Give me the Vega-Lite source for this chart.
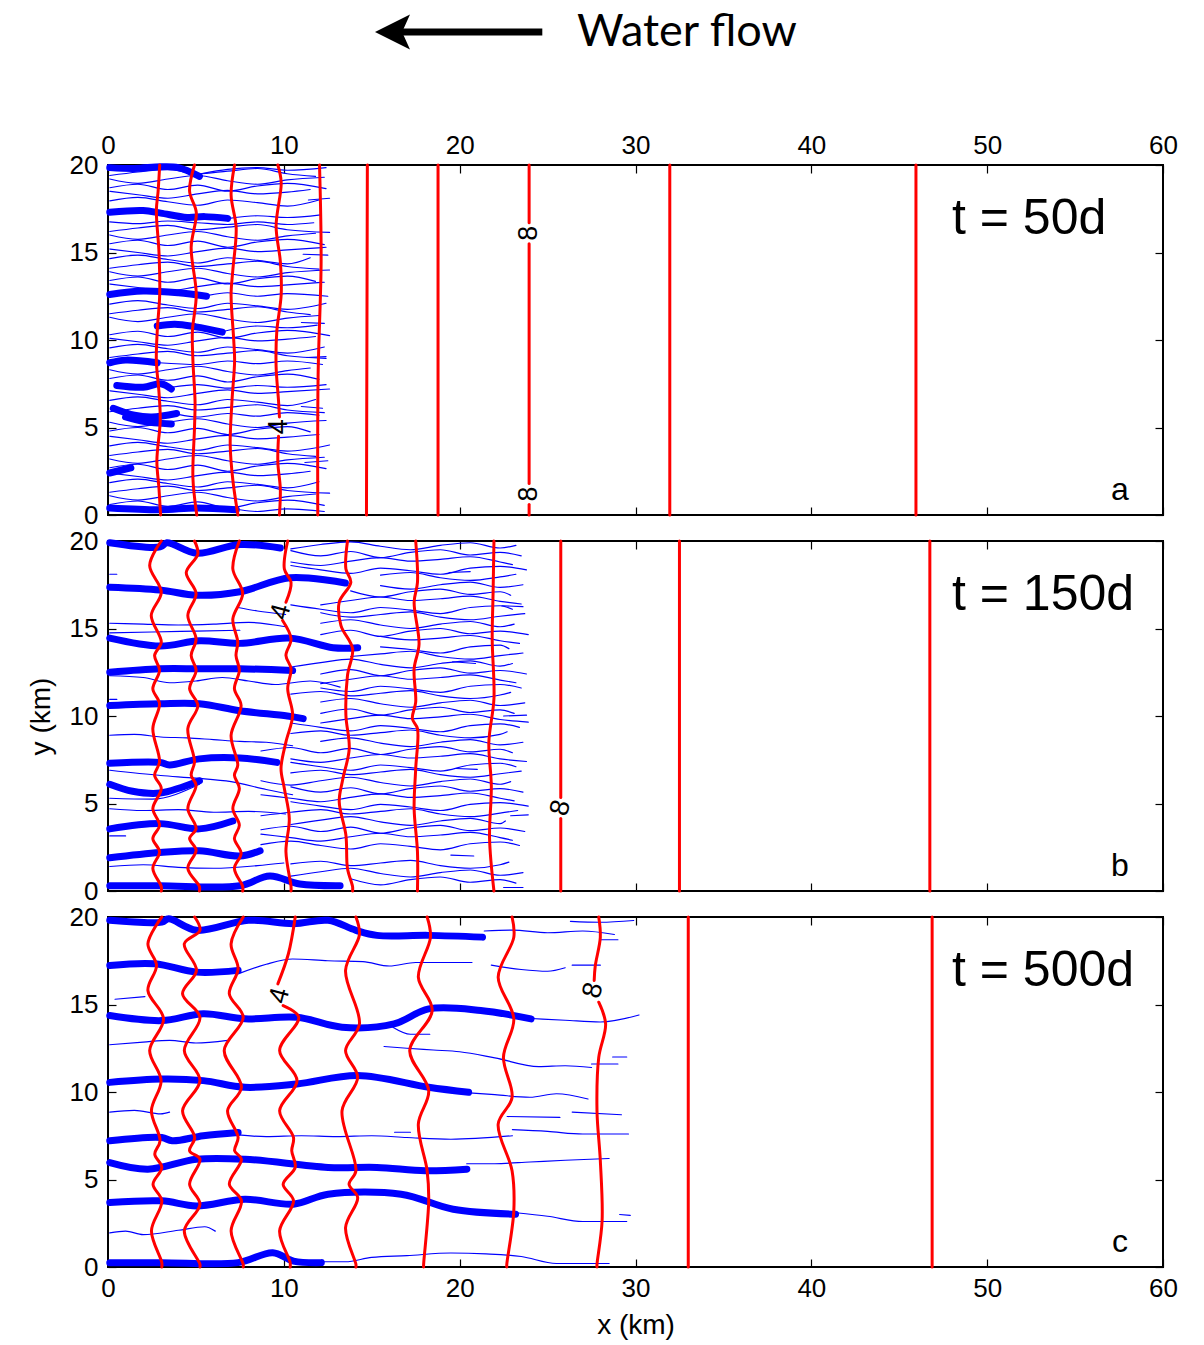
{
"$schema": "https://vega.github.io/schema/vega-lite/v6.json",
"background": "white",
"padding": {"left": 26, "top": 0, "right": 10, "bottom": 5},
"spacing": 26,
"bounds": "flush",
"config": {
  "font": "Liberation Sans",
  "view": {"stroke": "#000", "strokeWidth": 2},
  "axis": {"grid": false, "domain": false, "minExtent": 0, "tickSize": -8, "tickColor": "#000", "tickWidth": 1.2, "labelFont": "Liberation Sans", "labelFontSize": 26, "labelColor": "#000", "labelFlush": false, "labelOverlap": false, "titleFont": "Liberation Sans", "titleFontSize": 28, "titleFontWeight": "normal", "titleColor": "#000"},
  "line": {"strokeJoin": "round", "strokeCap": "round"}
},
"datasets": {
"thin_a": [
{"k":1,"x":0.1,"y":0.6},{"k":1,"x":1.7,"y":0.8},{"k":1,"x":3.4,"y":0.5},{"k":1,"x":5.1,"y":0.75},{"k":1,"x":6.8,"y":0.4},{"k":1,"x":8.5,"y":0.7},{"k":1,"x":10.2,"y":0.85},{"k":1,"x":12.3,"y":0.55},
{"k":2,"x":0.1,"y":1.1},{"k":2,"x":1.7,"y":0.85},{"k":2,"x":3.4,"y":1.1},{"k":2,"x":5.1,"y":1.3},{"k":2,"x":6.8,"y":1.0},{"k":2,"x":8.5,"y":0.8},{"k":2,"x":10.2,"y":1.05},{"k":2,"x":11.8,"y":1.2},
{"k":3,"x":0.1,"y":1.3},{"k":3,"x":1.7,"y":1.5},{"k":3,"x":3.4,"y":1.65},{"k":3,"x":5.1,"y":1.4},{"k":3,"x":6.8,"y":1.55},{"k":3,"x":8.5,"y":1.7},{"k":3,"x":10.2,"y":1.4},{"k":3,"x":12.6,"y":1.25},
{"k":4,"x":0.1,"y":1.85},{"k":4,"x":1.7,"y":2.05},{"k":4,"x":3.4,"y":1.8},{"k":4,"x":5.1,"y":1.6},{"k":4,"x":6.8,"y":1.9},{"k":4,"x":8.5,"y":1.75},{"k":4,"x":10.2,"y":1.55},{"k":4,"x":12.0,"y":1.9},
{"k":5,"x":0.1,"y":2.4},{"k":5,"x":1.7,"y":2.2},{"k":5,"x":3.4,"y":2.0},{"k":5,"x":5.1,"y":2.25},{"k":5,"x":6.8,"y":2.45},{"k":5,"x":8.5,"y":2.25},{"k":5,"x":10.2,"y":2.35},{"k":5,"x":11.5,"y":2.5},
{"k":6,"x":0.1,"y":2.7},{"k":6,"x":1.7,"y":2.9},{"k":6,"x":3.4,"y":2.6},{"k":6,"x":5.1,"y":2.85},{"k":6,"x":6.8,"y":2.5},{"k":6,"x":8.5,"y":2.8},{"k":6,"x":10.2,"y":2.95},{"k":6,"x":12.4,"y":2.65},
{"k":7,"x":0.1,"y":3.2},{"k":7,"x":1.7,"y":2.95},{"k":7,"x":3.4,"y":3.2},{"k":7,"x":5.1,"y":3.4},{"k":7,"x":6.8,"y":3.1},{"k":7,"x":8.5,"y":2.9},{"k":7,"x":10.2,"y":3.15},{"k":7,"x":12.3,"y":3.3},
{"k":8,"x":0.1,"y":3.4},{"k":8,"x":1.7,"y":3.6},{"k":8,"x":3.4,"y":3.75},{"k":8,"x":5.1,"y":3.5},{"k":8,"x":6.8,"y":3.65},{"k":8,"x":8.5,"y":3.8},{"k":8,"x":10.2,"y":3.5},{"k":8,"x":11.8,"y":3.35},
{"k":9,"x":0.1,"y":3.95},{"k":9,"x":1.7,"y":4.15},{"k":9,"x":3.4,"y":3.9},{"k":9,"x":5.1,"y":3.7},{"k":9,"x":6.8,"y":4.0},{"k":9,"x":8.5,"y":3.85},{"k":9,"x":10.2,"y":3.65},{"k":9,"x":12.6,"y":4.0},
{"k":10,"x":0.1,"y":4.5},{"k":10,"x":1.7,"y":4.3},{"k":10,"x":3.4,"y":4.1},{"k":10,"x":5.1,"y":4.35},{"k":10,"x":6.8,"y":4.55},{"k":10,"x":8.5,"y":4.35},{"k":10,"x":10.2,"y":4.45},{"k":10,"x":12.0,"y":4.6},
{"k":11,"x":0.1,"y":4.8},{"k":11,"x":1.7,"y":5.0},{"k":11,"x":3.4,"y":4.7},{"k":11,"x":5.1,"y":4.95},{"k":11,"x":6.8,"y":4.6},{"k":11,"x":8.5,"y":4.9},{"k":11,"x":10.2,"y":5.05},{"k":11,"x":11.5,"y":4.75},
{"k":12,"x":0.1,"y":5.3},{"k":12,"x":1.7,"y":5.05},{"k":12,"x":3.4,"y":5.3},{"k":12,"x":5.1,"y":5.5},{"k":12,"x":6.8,"y":5.2},{"k":12,"x":8.5,"y":5.0},{"k":12,"x":10.2,"y":5.25},{"k":12,"x":12.4,"y":5.4},
{"k":13,"x":0.1,"y":5.9},{"k":13,"x":1.7,"y":6.1},{"k":13,"x":3.4,"y":6.25},{"k":13,"x":5.1,"y":6.0},{"k":13,"x":6.8,"y":6.15},{"k":13,"x":8.5,"y":6.3},{"k":13,"x":10.2,"y":6.0},{"k":13,"x":12.3,"y":5.85},
{"k":14,"x":0.1,"y":6.55},{"k":14,"x":1.7,"y":6.75},{"k":14,"x":3.4,"y":6.5},{"k":14,"x":5.1,"y":6.3},{"k":14,"x":6.8,"y":6.6},{"k":14,"x":8.5,"y":6.45},{"k":14,"x":10.2,"y":6.25},{"k":14,"x":11.8,"y":6.6},
{"k":15,"x":0.1,"y":7.1},{"k":15,"x":1.7,"y":6.9},{"k":15,"x":3.4,"y":6.7},{"k":15,"x":5.1,"y":6.95},{"k":15,"x":6.8,"y":7.15},{"k":15,"x":8.5,"y":6.95},{"k":15,"x":10.2,"y":7.05},{"k":15,"x":12.6,"y":7.2},
{"k":16,"x":0.1,"y":7.8},{"k":16,"x":1.7,"y":8.0},{"k":16,"x":3.4,"y":7.7},{"k":16,"x":5.1,"y":7.95},{"k":16,"x":6.8,"y":7.6},{"k":16,"x":8.5,"y":7.9},{"k":16,"x":10.2,"y":8.05},{"k":16,"x":12.0,"y":7.75},
{"k":17,"x":0.1,"y":8.3},{"k":17,"x":1.7,"y":8.05},{"k":17,"x":3.4,"y":8.3},{"k":17,"x":5.1,"y":8.5},{"k":17,"x":6.8,"y":8.2},{"k":17,"x":8.5,"y":8.0},{"k":17,"x":10.2,"y":8.25},{"k":17,"x":11.5,"y":8.4},
{"k":18,"x":0.1,"y":9.0},{"k":18,"x":1.7,"y":9.2},{"k":18,"x":3.4,"y":9.35},{"k":18,"x":5.1,"y":9.1},{"k":18,"x":6.8,"y":9.25},{"k":18,"x":8.5,"y":9.4},{"k":18,"x":10.2,"y":9.1},{"k":18,"x":12.4,"y":8.95},
{"k":19,"x":0.1,"y":9.55},{"k":19,"x":1.7,"y":9.75},{"k":19,"x":3.4,"y":9.5},{"k":19,"x":5.1,"y":9.3},{"k":19,"x":6.8,"y":9.6},{"k":19,"x":8.5,"y":9.45},{"k":19,"x":10.2,"y":9.25},{"k":19,"x":12.3,"y":9.6},
{"k":20,"x":0.1,"y":10.1},{"k":20,"x":1.7,"y":9.9},{"k":20,"x":3.4,"y":9.7},{"k":20,"x":5.1,"y":9.95},{"k":20,"x":6.8,"y":10.15},{"k":20,"x":8.5,"y":9.95},{"k":20,"x":10.2,"y":10.05},{"k":20,"x":11.8,"y":10.2},
{"k":21,"x":0.1,"y":10.3},{"k":21,"x":1.7,"y":10.5},{"k":21,"x":3.4,"y":10.2},{"k":21,"x":5.1,"y":10.45},{"k":21,"x":6.8,"y":10.1},{"k":21,"x":8.5,"y":10.4},{"k":21,"x":10.2,"y":10.55},{"k":21,"x":12.6,"y":10.25},
{"k":22,"x":0.1,"y":11.3},{"k":22,"x":1.7,"y":11.05},{"k":22,"x":3.4,"y":11.3},{"k":22,"x":5.1,"y":11.5},{"k":22,"x":6.8,"y":11.2},{"k":22,"x":8.5,"y":11.0},{"k":22,"x":10.2,"y":11.25},{"k":22,"x":12.0,"y":11.4},
{"k":23,"x":0.1,"y":11.5},{"k":23,"x":1.7,"y":11.7},{"k":23,"x":3.4,"y":11.85},{"k":23,"x":5.1,"y":11.6},{"k":23,"x":6.8,"y":11.75},{"k":23,"x":8.5,"y":11.9},{"k":23,"x":10.2,"y":11.6},{"k":23,"x":11.5,"y":11.45},
{"k":24,"x":0.1,"y":12.05},{"k":24,"x":1.7,"y":12.25},{"k":24,"x":3.4,"y":12.0},{"k":24,"x":5.1,"y":11.8},{"k":24,"x":6.8,"y":12.1},{"k":24,"x":8.5,"y":11.95},{"k":24,"x":10.2,"y":11.75},{"k":24,"x":12.4,"y":12.1},
{"k":25,"x":0.1,"y":13.2},{"k":25,"x":1.7,"y":13.0},{"k":25,"x":3.4,"y":12.8},{"k":25,"x":5.1,"y":13.05},{"k":25,"x":6.8,"y":13.25},{"k":25,"x":8.5,"y":13.05},{"k":25,"x":10.2,"y":13.15},{"k":25,"x":12.3,"y":13.3},
{"k":26,"x":0.1,"y":13.4},{"k":26,"x":1.7,"y":13.6},{"k":26,"x":3.4,"y":13.3},{"k":26,"x":5.1,"y":13.55},{"k":26,"x":6.8,"y":13.2},{"k":26,"x":8.5,"y":13.5},{"k":26,"x":10.2,"y":13.65},{"k":26,"x":11.8,"y":13.35},
{"k":27,"x":0.1,"y":13.9},{"k":27,"x":1.7,"y":13.65},{"k":27,"x":3.4,"y":13.9},{"k":27,"x":5.1,"y":14.1},{"k":27,"x":6.8,"y":13.8},{"k":27,"x":8.5,"y":13.6},{"k":27,"x":10.2,"y":13.85},{"k":27,"x":12.6,"y":14.0},
{"k":28,"x":0.1,"y":14.1},{"k":28,"x":1.7,"y":14.3},{"k":28,"x":3.4,"y":14.45},{"k":28,"x":5.1,"y":14.2},{"k":28,"x":6.8,"y":14.35},{"k":28,"x":8.5,"y":14.5},{"k":28,"x":10.2,"y":14.2},{"k":28,"x":12.0,"y":14.05},
{"k":29,"x":0.1,"y":14.65},{"k":29,"x":1.7,"y":14.85},{"k":29,"x":3.4,"y":14.6},{"k":29,"x":5.1,"y":14.4},{"k":29,"x":6.8,"y":14.7},{"k":29,"x":8.5,"y":14.55},{"k":29,"x":10.2,"y":14.35},{"k":29,"x":11.5,"y":14.7},
{"k":30,"x":0.1,"y":15.2},{"k":30,"x":1.7,"y":15.0},{"k":30,"x":3.4,"y":14.8},{"k":30,"x":5.1,"y":15.05},{"k":30,"x":6.8,"y":15.25},{"k":30,"x":8.5,"y":15.05},{"k":30,"x":10.2,"y":15.15},{"k":30,"x":12.4,"y":15.3},
{"k":31,"x":0.1,"y":15.5},{"k":31,"x":1.7,"y":15.7},{"k":31,"x":3.4,"y":15.4},{"k":31,"x":5.1,"y":15.65},{"k":31,"x":6.8,"y":15.3},{"k":31,"x":8.5,"y":15.6},{"k":31,"x":10.2,"y":15.75},{"k":31,"x":12.3,"y":15.45},
{"k":32,"x":0.1,"y":16.0},{"k":32,"x":1.7,"y":15.75},{"k":32,"x":3.4,"y":16.0},{"k":32,"x":5.1,"y":16.2},{"k":32,"x":6.8,"y":15.9},{"k":32,"x":8.5,"y":15.7},{"k":32,"x":10.2,"y":15.95},{"k":32,"x":11.8,"y":16.1},
{"k":33,"x":0.1,"y":16.2},{"k":33,"x":1.7,"y":16.4},{"k":33,"x":3.4,"y":16.55},{"k":33,"x":5.1,"y":16.3},{"k":33,"x":6.8,"y":16.45},{"k":33,"x":8.5,"y":16.6},{"k":33,"x":10.2,"y":16.3},{"k":33,"x":12.6,"y":16.15},
{"k":34,"x":0.1,"y":17.95},{"k":34,"x":1.7,"y":18.15},{"k":34,"x":3.4,"y":17.9},{"k":34,"x":5.1,"y":17.7},{"k":34,"x":6.8,"y":18.0},{"k":34,"x":8.5,"y":17.85},{"k":34,"x":10.2,"y":17.65},{"k":34,"x":12.0,"y":18.0},
{"k":35,"x":0.1,"y":18.5},{"k":35,"x":1.7,"y":18.3},{"k":35,"x":3.4,"y":18.1},{"k":35,"x":5.1,"y":18.35},{"k":35,"x":6.8,"y":18.55},{"k":35,"x":8.5,"y":18.35},{"k":35,"x":10.2,"y":18.45},{"k":35,"x":11.5,"y":18.6},
{"k":36,"x":0.1,"y":18.7},{"k":36,"x":1.7,"y":18.9},{"k":36,"x":3.4,"y":18.6},{"k":36,"x":5.1,"y":18.85},{"k":36,"x":6.8,"y":18.5},{"k":36,"x":8.5,"y":18.8},{"k":36,"x":10.2,"y":18.95},{"k":36,"x":12.4,"y":18.65},
{"k":37,"x":0.1,"y":19.2},{"k":37,"x":1.7,"y":18.95},{"k":37,"x":3.4,"y":19.2},{"k":37,"x":5.1,"y":19.4},{"k":37,"x":6.8,"y":19.1},{"k":37,"x":8.5,"y":18.9},{"k":37,"x":10.2,"y":19.15},{"k":37,"x":12.3,"y":19.3},
{"k":38,"x":0.1,"y":19.4},{"k":38,"x":1.7,"y":19.6},{"k":38,"x":3.4,"y":19.75},{"k":38,"x":5.1,"y":19.5},{"k":38,"x":6.8,"y":19.65},{"k":38,"x":8.5,"y":19.8},{"k":38,"x":10.2,"y":19.5},{"k":38,"x":11.8,"y":19.35},
{"k":39,"x":7.5,"y":0.3},{"k":39,"x":8.5,"y":0.2},{"k":39,"x":10.2,"y":0.35},{"k":39,"x":12.3,"y":0.2},
{"k":40,"x":4.0,"y":5.75},{"k":40,"x":5.1,"y":5.6},{"k":40,"x":6.8,"y":5.8},{"k":40,"x":8.5,"y":5.65},{"k":40,"x":10.2,"y":5.85},{"k":40,"x":12.0,"y":5.7},
{"k":41,"x":3.6,"y":7.3},{"k":41,"x":5.1,"y":7.45},{"k":41,"x":6.8,"y":7.25},{"k":41,"x":8.5,"y":7.4},{"k":41,"x":10.2,"y":7.3},{"k":41,"x":12.4,"y":7.45},
{"k":42,"x":2.9,"y":8.7},{"k":42,"x":5.1,"y":8.6},{"k":42,"x":6.8,"y":8.8},{"k":42,"x":8.5,"y":8.65},{"k":42,"x":10.2,"y":8.8},{"k":42,"x":12.2,"y":8.6},
{"k":43,"x":6.6,"y":10.5},{"k":43,"x":8.5,"y":10.8},{"k":43,"x":10.2,"y":10.7},{"k":43,"x":11.9,"y":10.85},
{"k":44,"x":5.7,"y":12.55},{"k":44,"x":6.8,"y":12.7},{"k":44,"x":8.5,"y":12.5},{"k":44,"x":10.2,"y":12.65},{"k":44,"x":12.5,"y":12.5},
{"k":45,"x":6.9,"y":16.95},{"k":45,"x":8.5,"y":17.1},{"k":45,"x":10.2,"y":17.0},{"k":45,"x":12.1,"y":17.15},
{"k":46,"x":5.3,"y":19.5},{"k":46,"x":6.8,"y":19.75},{"k":46,"x":8.5,"y":19.85},{"k":46,"x":10.2,"y":19.7},{"k":46,"x":12.4,"y":19.85},
{"k":47,"x":0.1,"y":16.75},{"k":47,"x":1.7,"y":16.65},{"k":47,"x":3.4,"y":16.8},{"k":47,"x":5.1,"y":16.7},{"k":47,"x":6.8,"y":16.6},{"k":47,"x":8.5,"y":16.75},{"k":47,"x":10.2,"y":16.6},{"k":47,"x":11.7,"y":16.7},
{"k":50,"x":11.2,"y":3.0},{"k":50,"x":12.5,"y":3.1},
{"k":51,"x":11.0,"y":6.2},{"k":51,"x":12.2,"y":6.1},
{"k":52,"x":11.3,"y":9.0},{"k":52,"x":12.4,"y":9.05},
{"k":53,"x":11.1,"y":14.9},{"k":53,"x":12.5,"y":14.85},
{"k":54,"x":11.4,"y":18.0},{"k":54,"x":12.6,"y":18.1},
{"k":55,"x":11.0,"y":11.0},{"k":55,"x":12.3,"y":10.95}
],
"thick_a": [
{"k":1,"x":0.1,"y":19.85},{"k":1,"x":1.5,"y":19.8},{"k":1,"x":3.0,"y":19.9},{"k":1,"x":4.0,"y":19.85},{"k":1,"x":5.2,"y":19.35},
{"k":2,"x":0.1,"y":17.3},{"k":2,"x":2.0,"y":17.4},{"k":2,"x":3.0,"y":17.25},{"k":2,"x":4.5,"y":17.0},{"k":2,"x":5.5,"y":17.05},{"k":2,"x":6.8,"y":16.95},
{"k":3,"x":0.1,"y":12.6},{"k":3,"x":2.0,"y":12.8},{"k":3,"x":4.0,"y":12.7},{"k":3,"x":5.6,"y":12.5},
{"k":4,"x":2.8,"y":10.8},{"k":4,"x":3.8,"y":10.9},{"k":4,"x":5.0,"y":10.75},{"k":4,"x":6.5,"y":10.45},
{"k":5,"x":0.1,"y":8.7},{"k":5,"x":1.0,"y":8.85},{"k":5,"x":2.8,"y":8.7},
{"k":6,"x":0.5,"y":7.4},{"k":6,"x":2.0,"y":7.3},{"k":6,"x":3.0,"y":7.5},{"k":6,"x":3.6,"y":7.2},
{"k":7,"x":0.3,"y":6.1},{"k":7,"x":1.5,"y":5.7},{"k":7,"x":2.5,"y":5.6},{"k":7,"x":3.9,"y":5.8},
{"k":8,"x":1.0,"y":5.6},{"k":8,"x":2.0,"y":5.35},{"k":8,"x":3.6,"y":5.2},
{"k":9,"x":0.1,"y":2.4},{"k":9,"x":1.3,"y":2.7},
{"k":10,"x":0.1,"y":0.4},{"k":10,"x":3.0,"y":0.3},{"k":10,"x":5.0,"y":0.4},{"k":10,"x":7.3,"y":0.3}
],
"red_a": [
{"k":1,"x":2.99,"y":0},{"k":1,"x":2.9,"y":1.5},{"k":1,"x":2.78,"y":3.1},{"k":1,"x":2.97,"y":5.4},{"k":1,"x":2.9,"y":7},{"k":1,"x":2.75,"y":8.8},{"k":1,"x":2.8,"y":10.5},{"k":1,"x":2.94,"y":12.6},{"k":1,"x":2.9,"y":15},{"k":1,"x":2.75,"y":17.4},{"k":1,"x":2.85,"y":18.5},{"k":1,"x":2.94,"y":20},
{"k":2,"x":5.05,"y":0},{"k":2,"x":4.83,"y":2.1},{"k":2,"x":4.92,"y":5.0},{"k":2,"x":4.95,"y":6.5},{"k":2,"x":4.83,"y":8.8},{"k":2,"x":4.8,"y":10.5},{"k":2,"x":5.02,"y":12.6},{"k":2,"x":4.73,"y":15.3},{"k":2,"x":5.02,"y":17.3},{"k":2,"x":4.64,"y":18.5},{"k":2,"x":4.92,"y":20},
{"k":3,"x":7.39,"y":0},{"k":3,"x":7.1,"y":2},{"k":3,"x":6.95,"y":4},{"k":3,"x":7.05,"y":6.5},{"k":3,"x":7.2,"y":8.8},{"k":3,"x":7.15,"y":10},{"k":3,"x":7.0,"y":12.6},{"k":3,"x":7.1,"y":14},{"k":3,"x":7.29,"y":16.4},{"k":3,"x":7.0,"y":18.3},{"k":3,"x":7.2,"y":20},
{"k":4,"x":9.75,"y":5.6},{"k":4,"x":9.7,"y":6.5},{"k":4,"x":9.56,"y":8.5},{"k":4,"x":9.6,"y":10.5},{"k":4,"x":9.85,"y":12.6},{"k":4,"x":9.8,"y":14.5},{"k":4,"x":9.56,"y":16.5},{"k":4,"x":9.85,"y":19},{"k":4,"x":9.66,"y":20},
{"k":41,"x":9.75,"y":0},{"k":41,"x":9.8,"y":1.5},{"k":41,"x":9.66,"y":3},{"k":41,"x":9.7,"y":4.5},
{"k":5,"x":11.93,"y":0},{"k":5,"x":11.95,"y":8},{"k":5,"x":12.12,"y":14.5},{"k":5,"x":12.03,"y":20},
{"k":6,"x":14.7,"y":0},{"k":6,"x":14.75,"y":20},
{"k":7,"x":18.77,"y":0},{"k":7,"x":18.77,"y":20},
{"k":8,"x":23.95,"y":16.7},{"k":8,"x":23.95,"y":20},
{"k":81,"x":23.95,"y":1.8},{"k":81,"x":23.95,"y":15.5},
{"k":82,"x":23.95,"y":0},{"k":82,"x":23.95,"y":0.6},
{"k":9,"x":31.95,"y":0},{"k":9,"x":31.95,"y":20},
{"k":10,"x":45.95,"y":0},{"k":10,"x":45.95,"y":20}
],
"lab_a": [
{"x":9.75,"y":5.05,"t":"4"},{"x":23.95,"y":16.1,"t":"8"},{"x":23.95,"y":1.2,"t":"8"}
],
"thin_b": [
{"k":101,"x":13.8,"y":0.7},{"k":101,"x":15.5,"y":0.35},{"k":101,"x":17.2,"y":0.65},{"k":101,"x":18.9,"y":0.8},{"k":101,"x":20.6,"y":0.5},{"k":101,"x":22.3,"y":0.65},{"k":101,"x":23.2,"y":0.45},
{"k":102,"x":10.4,"y":0.85},{"k":102,"x":12.1,"y":1.1},{"k":102,"x":13.8,"y":1.3},{"k":102,"x":15.5,"y":1.0},{"k":102,"x":17.2,"y":0.8},{"k":102,"x":18.9,"y":1.05},{"k":102,"x":20.6,"y":1.2},{"k":102,"x":22.3,"y":0.9},{"k":102,"x":23.6,"y":1.05},
{"k":103,"x":10.4,"y":1.55},{"k":103,"x":12.1,"y":1.7},{"k":103,"x":13.8,"y":1.45},{"k":103,"x":15.5,"y":1.6},{"k":103,"x":17.2,"y":1.75},{"k":103,"x":18.9,"y":1.45},{"k":103,"x":20.6,"y":1.3},{"k":103,"x":22.3,"y":1.5},{"k":103,"x":22.8,"y":1.65},
{"k":104,"x":8.7,"y":2.65},{"k":104,"x":10.4,"y":2.85},{"k":104,"x":12.1,"y":2.6},{"k":104,"x":13.8,"y":2.4},{"k":104,"x":15.5,"y":2.7},{"k":104,"x":17.2,"y":2.55},{"k":104,"x":18.9,"y":2.35},{"k":104,"x":20.6,"y":2.7},{"k":104,"x":22.3,"y":2.8},{"k":104,"x":23.4,"y":2.6},
{"k":105,"x":8.7,"y":3.25},{"k":105,"x":10.4,"y":3.05},{"k":105,"x":12.1,"y":2.85},{"k":105,"x":13.8,"y":3.1},{"k":105,"x":15.5,"y":3.3},{"k":105,"x":17.2,"y":3.1},{"k":105,"x":18.9,"y":3.2},{"k":105,"x":20.6,"y":3.35},{"k":105,"x":22.3,"y":3.05},{"k":105,"x":23.0,"y":2.9},
{"k":106,"x":8.7,"y":3.5},{"k":106,"x":10.4,"y":3.7},{"k":106,"x":12.1,"y":3.4},{"k":106,"x":13.8,"y":3.65},{"k":106,"x":15.5,"y":3.3},{"k":106,"x":17.2,"y":3.6},{"k":106,"x":18.9,"y":3.75},{"k":106,"x":20.6,"y":3.45},{"k":106,"x":22.3,"y":3.6},{"k":106,"x":23.7,"y":3.4},
{"k":107,"x":10.4,"y":3.8},{"k":107,"x":12.1,"y":4.05},{"k":107,"x":13.8,"y":4.25},{"k":107,"x":15.5,"y":3.95},{"k":107,"x":17.2,"y":3.75},{"k":107,"x":18.9,"y":4.0},{"k":107,"x":20.6,"y":4.15},{"k":107,"x":22.3,"y":3.85},{"k":107,"x":22.6,"y":4.0},
{"k":108,"x":8.7,"y":4.3},{"k":108,"x":10.4,"y":4.5},{"k":108,"x":12.1,"y":4.65},{"k":108,"x":13.8,"y":4.4},{"k":108,"x":15.5,"y":4.55},{"k":108,"x":17.2,"y":4.7},{"k":108,"x":18.9,"y":4.4},{"k":108,"x":20.6,"y":4.25},{"k":108,"x":22.3,"y":4.45},{"k":108,"x":23.3,"y":4.6},
{"k":109,"x":10.4,"y":5.1},{"k":109,"x":12.1,"y":4.85},{"k":109,"x":13.8,"y":4.65},{"k":109,"x":15.5,"y":4.95},{"k":109,"x":17.2,"y":4.8},{"k":109,"x":18.9,"y":4.6},{"k":109,"x":20.6,"y":4.95},{"k":109,"x":22.3,"y":5.05},{"k":109,"x":23.9,"y":4.85},
{"k":110,"x":8.7,"y":5.5},{"k":110,"x":10.4,"y":5.3},{"k":110,"x":12.1,"y":5.1},{"k":110,"x":13.8,"y":5.35},{"k":110,"x":15.5,"y":5.55},{"k":110,"x":17.2,"y":5.35},{"k":110,"x":18.9,"y":5.45},{"k":110,"x":20.6,"y":5.6},{"k":110,"x":22.3,"y":5.3},{"k":110,"x":23.1,"y":5.15},
{"k":111,"x":10.4,"y":5.95},{"k":111,"x":12.1,"y":5.65},{"k":111,"x":13.8,"y":5.9},{"k":111,"x":15.5,"y":5.55},{"k":111,"x":17.2,"y":5.85},{"k":111,"x":18.9,"y":6.0},{"k":111,"x":20.6,"y":5.7},{"k":111,"x":22.3,"y":5.85},{"k":111,"x":23.6,"y":5.65},
{"k":112,"x":8.7,"y":6.3},{"k":112,"x":10.4,"y":6.05},{"k":112,"x":12.1,"y":6.3},{"k":112,"x":13.8,"y":6.5},{"k":112,"x":15.5,"y":6.2},{"k":112,"x":17.2,"y":6.0},{"k":112,"x":18.9,"y":6.25},{"k":112,"x":20.6,"y":6.4},{"k":112,"x":22.3,"y":6.1},{"k":112,"x":22.9,"y":6.25},
{"k":113,"x":10.4,"y":6.75},{"k":113,"x":12.1,"y":6.9},{"k":113,"x":13.8,"y":6.65},{"k":113,"x":15.5,"y":6.8},{"k":113,"x":17.2,"y":6.95},{"k":113,"x":18.9,"y":6.65},{"k":113,"x":20.6,"y":6.5},{"k":113,"x":22.3,"y":6.7},{"k":113,"x":23.5,"y":6.85},
{"k":114,"x":10.4,"y":7.35},{"k":114,"x":12.1,"y":7.1},{"k":114,"x":13.8,"y":6.9},{"k":114,"x":15.5,"y":7.2},{"k":114,"x":17.2,"y":7.05},{"k":114,"x":18.9,"y":6.85},{"k":114,"x":20.6,"y":7.2},{"k":114,"x":22.3,"y":7.3},{"k":114,"x":23.2,"y":7.1},
{"k":115,"x":10.4,"y":7.55},{"k":115,"x":12.1,"y":7.35},{"k":115,"x":13.8,"y":7.6},{"k":115,"x":15.5,"y":7.8},{"k":115,"x":17.2,"y":7.6},{"k":115,"x":18.9,"y":7.7},{"k":115,"x":20.6,"y":7.85},{"k":115,"x":22.3,"y":7.55},{"k":115,"x":23.8,"y":7.4},
{"k":116,"x":8.7,"y":8.0},{"k":116,"x":10.4,"y":8.2},{"k":116,"x":12.1,"y":7.9},{"k":116,"x":13.8,"y":8.15},{"k":116,"x":15.5,"y":7.8},{"k":116,"x":17.2,"y":8.1},{"k":116,"x":18.9,"y":8.25},{"k":116,"x":20.6,"y":7.95},{"k":116,"x":22.3,"y":8.1},{"k":116,"x":23.0,"y":7.9},
{"k":117,"x":12.1,"y":8.55},{"k":117,"x":13.8,"y":8.75},{"k":117,"x":15.5,"y":8.45},{"k":117,"x":17.2,"y":8.25},{"k":117,"x":18.9,"y":8.5},{"k":117,"x":20.6,"y":8.65},{"k":117,"x":22.3,"y":8.35},{"k":117,"x":23.6,"y":8.5},
{"k":118,"x":10.4,"y":9.0},{"k":118,"x":12.1,"y":9.15},{"k":118,"x":13.8,"y":8.9},{"k":118,"x":15.5,"y":9.05},{"k":118,"x":17.2,"y":9.2},{"k":118,"x":18.9,"y":8.9},{"k":118,"x":20.6,"y":8.75},{"k":118,"x":22.3,"y":8.95},{"k":118,"x":22.7,"y":9.1},
{"k":119,"x":10.4,"y":9.6},{"k":119,"x":12.1,"y":9.35},{"k":119,"x":13.8,"y":9.15},{"k":119,"x":15.5,"y":9.45},{"k":119,"x":17.2,"y":9.3},{"k":119,"x":18.9,"y":9.1},{"k":119,"x":20.6,"y":9.45},{"k":119,"x":22.3,"y":9.55},{"k":119,"x":23.4,"y":9.35},
{"k":120,"x":12.1,"y":9.6},{"k":120,"x":13.8,"y":9.85},{"k":120,"x":15.5,"y":10.05},{"k":120,"x":17.2,"y":9.85},{"k":120,"x":18.9,"y":9.95},{"k":120,"x":20.6,"y":10.1},{"k":120,"x":22.3,"y":9.8},{"k":120,"x":23.9,"y":9.65},
{"k":121,"x":12.1,"y":10.15},{"k":121,"x":13.8,"y":10.4},{"k":121,"x":15.5,"y":10.05},{"k":121,"x":17.2,"y":10.35},{"k":121,"x":18.9,"y":10.5},{"k":121,"x":20.6,"y":10.2},{"k":121,"x":22.3,"y":10.35},{"k":121,"x":23.1,"y":10.15},
{"k":122,"x":12.1,"y":10.8},{"k":122,"x":13.8,"y":11.0},{"k":122,"x":15.5,"y":10.7},{"k":122,"x":17.2,"y":10.5},{"k":122,"x":18.9,"y":10.75},{"k":122,"x":20.6,"y":10.9},{"k":122,"x":22.3,"y":10.6},{"k":122,"x":23.7,"y":10.75},
{"k":123,"x":10.4,"y":11.25},{"k":123,"x":12.1,"y":11.4},{"k":123,"x":13.8,"y":11.15},{"k":123,"x":15.5,"y":11.3},{"k":123,"x":17.2,"y":11.45},{"k":123,"x":18.9,"y":11.15},{"k":123,"x":20.6,"y":11.0},{"k":123,"x":22.3,"y":11.2},{"k":123,"x":22.9,"y":11.35},
{"k":124,"x":12.1,"y":11.6},{"k":124,"x":13.8,"y":11.4},{"k":124,"x":15.5,"y":11.7},{"k":124,"x":17.2,"y":11.55},{"k":124,"x":18.9,"y":11.35},{"k":124,"x":20.6,"y":11.7},{"k":124,"x":22.3,"y":11.8},{"k":124,"x":23.5,"y":11.6},
{"k":125,"x":12.1,"y":11.85},{"k":125,"x":13.8,"y":12.1},{"k":125,"x":15.5,"y":12.3},{"k":125,"x":17.2,"y":12.1},{"k":125,"x":18.9,"y":12.2},{"k":125,"x":20.6,"y":12.35},{"k":125,"x":22.3,"y":12.05},{"k":125,"x":23.2,"y":11.9},
{"k":126,"x":12.1,"y":12.4},{"k":126,"x":13.8,"y":12.65},{"k":126,"x":15.5,"y":12.3},{"k":126,"x":17.2,"y":12.6},{"k":126,"x":18.9,"y":12.75},{"k":126,"x":20.6,"y":12.45},{"k":126,"x":22.3,"y":12.6},{"k":126,"x":23.8,"y":12.4},
{"k":127,"x":10.4,"y":12.8},{"k":127,"x":12.1,"y":13.05},{"k":127,"x":13.8,"y":13.25},{"k":127,"x":15.5,"y":12.95},{"k":127,"x":17.2,"y":12.75},{"k":127,"x":18.9,"y":13.0},{"k":127,"x":20.6,"y":13.15},{"k":127,"x":22.3,"y":12.85},{"k":127,"x":23.0,"y":13.0},
{"k":128,"x":13.8,"y":13.4},{"k":128,"x":15.5,"y":13.55},{"k":128,"x":17.2,"y":13.7},{"k":128,"x":18.9,"y":13.4},{"k":128,"x":20.6,"y":13.25},{"k":128,"x":22.3,"y":13.45},{"k":128,"x":23.6,"y":13.6},
{"k":129,"x":15.5,"y":13.95},{"k":129,"x":17.2,"y":13.8},{"k":129,"x":18.9,"y":13.6},{"k":129,"x":20.6,"y":13.95},{"k":129,"x":22.3,"y":14.05},{"k":129,"x":22.8,"y":13.85},
{"k":130,"x":15.5,"y":14.55},{"k":130,"x":17.2,"y":14.35},{"k":130,"x":18.9,"y":14.45},{"k":130,"x":20.6,"y":14.6},{"k":130,"x":22.3,"y":14.3},{"k":130,"x":23.4,"y":14.15},
{"k":131,"x":12.1,"y":14.65},{"k":131,"x":13.8,"y":14.9},{"k":131,"x":15.5,"y":14.55},{"k":131,"x":17.2,"y":14.85},{"k":131,"x":18.9,"y":15.0},{"k":131,"x":20.6,"y":14.7},{"k":131,"x":22.3,"y":14.85},{"k":131,"x":23.9,"y":14.65},
{"k":132,"x":12.1,"y":15.3},{"k":132,"x":13.8,"y":15.5},{"k":132,"x":15.5,"y":15.2},{"k":132,"x":17.2,"y":15.0},{"k":132,"x":18.9,"y":15.25},{"k":132,"x":20.6,"y":15.4},{"k":132,"x":22.3,"y":15.1},{"k":132,"x":23.1,"y":15.25},
{"k":133,"x":12.1,"y":15.9},{"k":133,"x":13.8,"y":15.65},{"k":133,"x":15.5,"y":15.8},{"k":133,"x":17.2,"y":15.95},{"k":133,"x":18.9,"y":15.65},{"k":133,"x":20.6,"y":15.5},{"k":133,"x":22.3,"y":15.7},{"k":133,"x":23.7,"y":15.85},
{"k":134,"x":10.4,"y":16.35},{"k":134,"x":12.1,"y":16.1},{"k":134,"x":13.8,"y":15.9},{"k":134,"x":15.5,"y":16.2},{"k":134,"x":17.2,"y":16.05},{"k":134,"x":18.9,"y":15.85},{"k":134,"x":20.6,"y":16.2},{"k":134,"x":22.3,"y":16.3},{"k":134,"x":23.0,"y":16.1},
{"k":135,"x":12.1,"y":16.35},{"k":135,"x":13.8,"y":16.6},{"k":135,"x":15.5,"y":16.8},{"k":135,"x":17.2,"y":16.6},{"k":135,"x":18.9,"y":16.7},{"k":135,"x":20.6,"y":16.85},{"k":135,"x":22.3,"y":16.55},{"k":135,"x":23.5,"y":16.4},
{"k":136,"x":13.8,"y":17.15},{"k":136,"x":15.5,"y":16.8},{"k":136,"x":17.2,"y":17.1},{"k":136,"x":18.9,"y":17.25},{"k":136,"x":20.6,"y":16.95},{"k":136,"x":22.3,"y":17.1},{"k":136,"x":22.9,"y":16.9},
{"k":137,"x":15.5,"y":17.45},{"k":137,"x":17.2,"y":17.25},{"k":137,"x":18.9,"y":17.5},{"k":137,"x":20.6,"y":17.65},{"k":137,"x":22.3,"y":17.35},{"k":137,"x":23.6,"y":17.5},
{"k":138,"x":15.5,"y":18.05},{"k":138,"x":17.2,"y":18.2},{"k":138,"x":18.9,"y":17.9},{"k":138,"x":20.6,"y":17.75},{"k":138,"x":22.3,"y":17.95},{"k":138,"x":23.2,"y":18.1},
{"k":139,"x":10.4,"y":18.6},{"k":139,"x":12.1,"y":18.35},{"k":139,"x":13.8,"y":18.15},{"k":139,"x":15.5,"y":18.45},{"k":139,"x":17.2,"y":18.3},{"k":139,"x":18.9,"y":18.1},{"k":139,"x":20.6,"y":18.45},{"k":139,"x":22.3,"y":18.55},{"k":139,"x":23.8,"y":18.35},
{"k":140,"x":10.4,"y":18.8},{"k":140,"x":12.1,"y":18.6},{"k":140,"x":13.8,"y":18.85},{"k":140,"x":15.5,"y":19.05},{"k":140,"x":17.2,"y":18.85},{"k":140,"x":18.9,"y":18.95},{"k":140,"x":20.6,"y":19.1},{"k":140,"x":22.3,"y":18.8},{"k":140,"x":23.0,"y":18.65},
{"k":141,"x":10.4,"y":19.45},{"k":141,"x":12.1,"y":19.15},{"k":141,"x":13.8,"y":19.4},{"k":141,"x":15.5,"y":19.05},{"k":141,"x":17.2,"y":19.35},{"k":141,"x":18.9,"y":19.5},{"k":141,"x":20.6,"y":19.2},{"k":141,"x":22.3,"y":19.35},{"k":141,"x":23.5,"y":19.15},
{"k":142,"x":10.4,"y":19.55},{"k":142,"x":12.1,"y":19.8},{"k":142,"x":13.8,"y":19.95},{"k":142,"x":15.5,"y":19.7},{"k":142,"x":17.2,"y":19.5},{"k":142,"x":18.9,"y":19.75},{"k":142,"x":20.6,"y":19.9},{"k":142,"x":22.3,"y":19.6},{"k":142,"x":23.2,"y":19.75},
{"k":143,"x":22.5,"y":0.2},{"k":143,"x":23.6,"y":0.2},
{"k":144,"x":19.5,"y":2.05},{"k":144,"x":20.8,"y":2.0},
{"k":145,"x":22.9,"y":4.3},{"k":145,"x":23.9,"y":4.35},
{"k":146,"x":19.8,"y":7.0},{"k":146,"x":21.0,"y":6.95},
{"k":147,"x":22.5,"y":10.0},{"k":147,"x":23.8,"y":10.05},
{"k":148,"x":19.6,"y":13.1},{"k":148,"x":20.9,"y":13.0},
{"k":149,"x":22.4,"y":16.3},{"k":149,"x":23.6,"y":16.25},
{"k":150,"x":19.4,"y":18.2},{"k":150,"x":20.6,"y":18.25},
{"k":201,"x":0.1,"y":18.1},{"k":201,"x":0.5,"y":18.1},
{"k":202,"x":0.1,"y":15.3},{"k":202,"x":2,"y":15.25},{"k":202,"x":4,"y":15.2},{"k":202,"x":6,"y":15.25},{"k":202,"x":8,"y":15.35},{"k":202,"x":10.1,"y":15.1},
{"k":203,"x":0.1,"y":14.75},{"k":203,"x":2.5,"y":14.8},{"k":203,"x":5,"y":14.85},{"k":203,"x":7.5,"y":14.9},
{"k":204,"x":7.4,"y":16.2},{"k":204,"x":8.5,"y":16.0},{"k":204,"x":10.1,"y":15.8},
{"k":205,"x":0.1,"y":12.3},{"k":205,"x":2,"y":12.2},{"k":205,"x":3.5,"y":11.9},{"k":205,"x":5,"y":12.0},{"k":205,"x":6.5,"y":12.2},{"k":205,"x":8,"y":12.0},{"k":205,"x":9.5,"y":11.8},{"k":205,"x":11.5,"y":12.0},{"k":205,"x":13.2,"y":11.65},
{"k":206,"x":0.1,"y":10.95},{"k":206,"x":0.5,"y":10.95},
{"k":207,"x":0.1,"y":8.9},{"k":207,"x":1.5,"y":8.95},{"k":207,"x":3,"y":8.8},{"k":207,"x":4.5,"y":8.75},{"k":207,"x":6,"y":8.65},{"k":207,"x":7.5,"y":8.55},{"k":207,"x":9,"y":8.5},{"k":207,"x":10.5,"y":8.3},
{"k":208,"x":0.1,"y":6.9},{"k":208,"x":3,"y":6.6},{"k":208,"x":5,"y":6.45},{"k":208,"x":7,"y":6.25},{"k":208,"x":9,"y":5.8},{"k":208,"x":10.5,"y":5.5},
{"k":209,"x":0.1,"y":5.3},{"k":209,"x":2.5,"y":5.25},{"k":209,"x":5.2,"y":6.1},
{"k":210,"x":0.1,"y":4.7},{"k":210,"x":2,"y":4.6},{"k":210,"x":4,"y":4.65},{"k":210,"x":6,"y":4.5},{"k":210,"x":8,"y":4.55},{"k":210,"x":10.1,"y":4.4},
{"k":211,"x":0.1,"y":3.15},{"k":211,"x":1,"y":3.15},
{"k":212,"x":0.1,"y":1.4},{"k":212,"x":2,"y":1.5},{"k":212,"x":4,"y":1.35},{"k":212,"x":6,"y":1.3},{"k":212,"x":8.5,"y":1.45},{"k":212,"x":10,"y":1.6}
],
"thick_b": [
{"k":1,"x":0.1,"y":19.9},{"k":1,"x":2.96,"y":19.66},{"k":1,"x":3.35,"y":19.9},{"k":1,"x":5.06,"y":19.3},{"k":1,"x":7.5,"y":19.8},{"k":1,"x":9.8,"y":19.6},
{"k":2,"x":0.1,"y":17.36},{"k":2,"x":2.96,"y":17.2},{"k":2,"x":5.06,"y":16.9},{"k":2,"x":7.5,"y":17.1},{"k":2,"x":10.35,"y":17.9},{"k":2,"x":13.5,"y":17.6},
{"k":3,"x":0.1,"y":14.45},{"k":3,"x":2.96,"y":14.0},{"k":3,"x":5.2,"y":14.3},{"k":3,"x":7.5,"y":14.15},{"k":3,"x":10.35,"y":14.45},{"k":3,"x":12.8,"y":13.9},{"k":3,"x":14.2,"y":13.9},
{"k":4,"x":0.1,"y":12.5},{"k":4,"x":2.96,"y":12.7},{"k":4,"x":5.2,"y":12.7},{"k":4,"x":7.5,"y":12.7},{"k":4,"x":10.5,"y":12.6},
{"k":5,"x":0.1,"y":10.6},{"k":5,"x":2.96,"y":10.7},{"k":5,"x":5.2,"y":10.7},{"k":5,"x":7.5,"y":10.3},{"k":5,"x":10.2,"y":10.0},{"k":5,"x":11.1,"y":9.85},
{"k":6,"x":0.1,"y":7.3},{"k":6,"x":2.96,"y":7.35},{"k":6,"x":3.5,"y":7.2},{"k":6,"x":5.2,"y":7.55},{"k":6,"x":7.5,"y":7.6},{"k":6,"x":9.6,"y":7.35},
{"k":7,"x":0.1,"y":6.1},{"k":7,"x":1.4,"y":5.7},{"k":7,"x":2.96,"y":5.6},{"k":7,"x":5.2,"y":6.3},
{"k":8,"x":0.1,"y":3.55},{"k":8,"x":2.96,"y":3.85},{"k":8,"x":5.2,"y":3.55},{"k":8,"x":7.1,"y":4.0},
{"k":9,"x":0.1,"y":1.9},{"k":9,"x":2.96,"y":2.2},{"k":9,"x":5.2,"y":2.3},{"k":9,"x":7.5,"y":2.0},{"k":9,"x":8.65,"y":2.3},
{"k":10,"x":0.1,"y":0.3},{"k":10,"x":2.96,"y":0.3},{"k":10,"x":7.5,"y":0.3},{"k":10,"x":9.2,"y":0.86},{"k":10,"x":10.9,"y":0.4},{"k":10,"x":13.2,"y":0.3}
],
"red_b": [
{"k":1,"x":3.03,"y":20},{"k":1,"x":2.37,"y":18.6},{"k":1,"x":3.03,"y":17.07},{"k":1,"x":2.46,"y":15.74},{"k":1,"x":3.03,"y":14.22},{"k":1,"x":2.65,"y":13.46},{"k":1,"x":2.93,"y":12.6},{"k":1,"x":2.55,"y":11.56},{"k":1,"x":2.93,"y":10.7},{"k":1,"x":2.55,"y":9.28},{"k":1,"x":2.93,"y":7.38},{"k":1,"x":2.65,"y":6.62},{"k":1,"x":3.03,"y":5.86},{"k":1,"x":2.55,"y":4.71},{"k":1,"x":2.93,"y":3.76},{"k":1,"x":2.55,"y":3.0},{"k":1,"x":2.93,"y":2.24},{"k":1,"x":2.55,"y":1.29},{"k":1,"x":3.03,"y":0.25},{"k":1,"x":3.03,"y":0},
{"k":2,"x":4.92,"y":20},{"k":2,"x":5.11,"y":19.26},{"k":2,"x":4.45,"y":18.2},{"k":2,"x":5.01,"y":17.0},{"k":2,"x":4.54,"y":15.74},{"k":2,"x":5.01,"y":14.4},{"k":2,"x":4.73,"y":13.46},{"k":2,"x":5.01,"y":12.6},{"k":2,"x":4.64,"y":11.56},{"k":2,"x":5.11,"y":10.6},{"k":2,"x":4.54,"y":9.28},{"k":2,"x":4.92,"y":7.38},{"k":2,"x":4.73,"y":6.62},{"k":2,"x":5.01,"y":6.05},{"k":2,"x":4.54,"y":4.71},{"k":2,"x":5.01,"y":3.57},{"k":2,"x":4.64,"y":3.0},{"k":2,"x":5.01,"y":2.34},{"k":2,"x":4.54,"y":1.29},{"k":2,"x":5.2,"y":0.25},{"k":2,"x":5.2,"y":0},
{"k":3,"x":7.47,"y":20},{"k":3,"x":7.1,"y":18.4},{"k":3,"x":7.66,"y":17.0},{"k":3,"x":7.1,"y":15.55},{"k":3,"x":7.38,"y":14.22},{"k":3,"x":7.28,"y":13.46},{"k":3,"x":7.47,"y":12.6},{"k":3,"x":7.19,"y":11.56},{"k":3,"x":7.57,"y":10.6},{"k":3,"x":7.0,"y":8.9},{"k":3,"x":7.38,"y":7.19},{"k":3,"x":7.19,"y":6.62},{"k":3,"x":7.47,"y":5.86},{"k":3,"x":7.1,"y":4.71},{"k":3,"x":7.47,"y":3.76},{"k":3,"x":7.19,"y":3.0},{"k":3,"x":7.57,"y":2.15},{"k":3,"x":7.19,"y":1.29},{"k":3,"x":7.66,"y":0.25},{"k":3,"x":7.66,"y":0},
{"k":4,"x":10.22,"y":20},{"k":4,"x":10.03,"y":18.4},{"k":4,"x":10.41,"y":17.64},{"k":4,"x":10.12,"y":16.5},
{"k":41,"x":9.93,"y":15.46},{"k":41,"x":10.41,"y":14.41},{"k":41,"x":10.12,"y":13.46},{"k":41,"x":10.41,"y":12.7},{"k":41,"x":10.22,"y":11.56},{"k":41,"x":10.5,"y":10.04},{"k":41,"x":10.12,"y":8.52},{"k":41,"x":9.84,"y":7.0},{"k":41,"x":10.03,"y":5.86},{"k":41,"x":10.31,"y":4.14},{"k":41,"x":10.12,"y":2.24},{"k":41,"x":10.41,"y":0.25},{"k":41,"x":10.41,"y":0},
{"k":5,"x":13.62,"y":20},{"k":5,"x":13.53,"y":18.4},{"k":5,"x":13.81,"y":17.64},{"k":5,"x":13.15,"y":16.5},{"k":5,"x":13.25,"y":15.17},{"k":5,"x":13.91,"y":13.84},{"k":5,"x":13.62,"y":12.32},{"k":5,"x":13.53,"y":10.04},{"k":5,"x":13.72,"y":8.14},{"k":5,"x":13.34,"y":6.33},{"k":5,"x":13.15,"y":5.1},{"k":5,"x":13.53,"y":3.19},{"k":5,"x":13.62,"y":1.29},{"k":5,"x":13.91,"y":0.25},{"k":5,"x":13.91,"y":0},
{"k":6,"x":17.5,"y":20},{"k":6,"x":17.6,"y":17.64},{"k":6,"x":17.41,"y":16.5},{"k":6,"x":17.69,"y":14.1},{"k":6,"x":17.41,"y":12.7},{"k":6,"x":17.5,"y":10.8},{"k":6,"x":17.31,"y":9.85},{"k":6,"x":17.6,"y":9.28},{"k":6,"x":17.5,"y":7.0},{"k":6,"x":17.41,"y":4.71},{"k":6,"x":17.6,"y":2.24},{"k":6,"x":17.6,"y":0},
{"k":7,"x":21.95,"y":20},{"k":7,"x":21.9,"y":17},{"k":7,"x":21.85,"y":14.4},{"k":7,"x":21.95,"y":11},{"k":7,"x":21.66,"y":8.5},{"k":7,"x":21.8,"y":6},{"k":7,"x":21.7,"y":3},{"k":7,"x":21.95,"y":0},
{"k":8,"x":25.75,"y":5.35},{"k":8,"x":25.75,"y":20},
{"k":81,"x":25.75,"y":0},{"k":81,"x":25.75,"y":4.15},
{"k":9,"x":32.5,"y":0},{"k":9,"x":32.5,"y":20},
{"k":10,"x":46.74,"y":0},{"k":10,"x":46.74,"y":20}
],
"lab_b": [
{"x":9.84,"y":15.95,"t":"4"},{"x":25.75,"y":4.75,"t":"8"}
],
"thin_c": [
{"k":301,"x":26.3,"y":19.75},{"k":301,"x":28,"y":19.7},{"k":301,"x":29.9,"y":19.8},
{"k":302,"x":21.4,"y":19.2},{"k":302,"x":23,"y":19.25},{"k":302,"x":25,"y":19.1},{"k":302,"x":27,"y":19.2},{"k":302,"x":28.8,"y":19.0},
{"k":303,"x":28.0,"y":18.7},{"k":303,"x":29.0,"y":18.7},
{"k":304,"x":7.4,"y":16.75},{"k":304,"x":9,"y":17.3},{"k":304,"x":10.5,"y":17.6},{"k":304,"x":12.5,"y":17.5},{"k":304,"x":14.5,"y":17.45},{"k":304,"x":16,"y":17.2},{"k":304,"x":17.5,"y":17.4},{"k":304,"x":19,"y":17.4},{"k":304,"x":20.7,"y":17.4},
{"k":305,"x":21.8,"y":17.25},{"k":305,"x":23.5,"y":17.0},{"k":305,"x":25,"y":16.9},{"k":305,"x":26,"y":17.1},
{"k":306,"x":26.4,"y":17.25},{"k":306,"x":28,"y":17.25},
{"k":307,"x":0.4,"y":15.3},{"k":307,"x":2.1,"y":15.45},
{"k":308,"x":24.1,"y":14.2},{"k":308,"x":26,"y":14.1},{"k":308,"x":28,"y":14.0},{"k":308,"x":30.2,"y":14.4},
{"k":309,"x":16.2,"y":13.7},{"k":309,"x":17.2,"y":13.3},{"k":309,"x":18.3,"y":13.3},
{"k":310,"x":0.1,"y":12.7},{"k":310,"x":2,"y":12.85},{"k":310,"x":3.5,"y":12.95},{"k":310,"x":5,"y":12.8},{"k":310,"x":6.8,"y":12.95},
{"k":311,"x":15.7,"y":12.6},{"k":311,"x":17,"y":12.5},{"k":311,"x":18.5,"y":12.4},{"k":311,"x":20,"y":12.3},{"k":311,"x":22,"y":11.95},{"k":311,"x":24.5,"y":11.45},{"k":311,"x":26,"y":11.5},{"k":311,"x":27.5,"y":11.4},
{"k":312,"x":27.5,"y":11.6},{"k":312,"x":29,"y":11.6},
{"k":313,"x":28.7,"y":12.0},{"k":313,"x":29.5,"y":12.0},
{"k":314,"x":20.5,"y":9.95},{"k":314,"x":22,"y":9.85},{"k":314,"x":24,"y":9.7},{"k":314,"x":25.5,"y":9.9},{"k":314,"x":27.3,"y":9.6},
{"k":315,"x":0.1,"y":8.85},{"k":315,"x":1.5,"y":8.95},{"k":315,"x":3,"y":8.75},{"k":315,"x":3.5,"y":8.85},
{"k":316,"x":22.7,"y":8.6},{"k":316,"x":25.7,"y":8.55},
{"k":317,"x":26.4,"y":8.85},{"k":317,"x":29.2,"y":8.7},
{"k":318,"x":23,"y":7.85},{"k":318,"x":25,"y":7.75},{"k":318,"x":27,"y":7.6},{"k":318,"x":29.6,"y":7.6},
{"k":319,"x":16.3,"y":7.7},{"k":319,"x":17.2,"y":7.7},
{"k":320,"x":7.4,"y":7.55},{"k":320,"x":9,"y":7.45},{"k":320,"x":11,"y":7.5},{"k":320,"x":13,"y":7.45},{"k":320,"x":15,"y":7.5},{"k":320,"x":17,"y":7.4},{"k":320,"x":19.5,"y":7.3},{"k":320,"x":23,"y":7.5},
{"k":321,"x":20.4,"y":5.9},{"k":321,"x":22,"y":5.9},{"k":321,"x":24,"y":6.0},{"k":321,"x":26,"y":6.1},{"k":321,"x":28.5,"y":6.2},
{"k":322,"x":23.2,"y":3.1},{"k":322,"x":25,"y":2.9},{"k":322,"x":27,"y":2.6},{"k":322,"x":29.5,"y":2.6},
{"k":323,"x":29.1,"y":3.0},{"k":323,"x":29.7,"y":2.95},
{"k":324,"x":0.1,"y":1.95},{"k":324,"x":1,"y":2.05},{"k":324,"x":2,"y":1.85},{"k":324,"x":4,"y":2.1},{"k":324,"x":5.5,"y":2.3},{"k":324,"x":6.1,"y":2.05},
{"k":325,"x":12.1,"y":0.3},{"k":325,"x":13.5,"y":0.3},{"k":325,"x":15,"y":0.55},{"k":325,"x":17,"y":0.65},{"k":325,"x":19.5,"y":0.8},{"k":325,"x":21.5,"y":0.75},{"k":325,"x":23.5,"y":0.6},{"k":325,"x":25.5,"y":0.2},{"k":325,"x":28.5,"y":0.2}
],
"thick_c": [
{"k":1,"x":0.1,"y":19.81},{"k":1,"x":3.06,"y":19.71},{"k":1,"x":3.45,"y":19.9},{"k":1,"x":5.03,"y":19.24},{"k":1,"x":7.99,"y":19.81},{"k":1,"x":10.55,"y":19.62},{"k":1,"x":12.52,"y":19.81},{"k":1,"x":14.1,"y":19.24},{"k":1,"x":15.29,"y":18.95},{"k":1,"x":18.24,"y":18.95},{"k":1,"x":21.3,"y":18.85},
{"k":2,"x":0.1,"y":17.23},{"k":2,"x":2.66,"y":17.33},{"k":2,"x":5.03,"y":16.85},{"k":2,"x":7.4,"y":16.95},
{"k":3,"x":0.1,"y":14.37},{"k":3,"x":3.06,"y":14.08},{"k":3,"x":5.42,"y":14.47},{"k":3,"x":7.79,"y":14.18},{"k":3,"x":10.75,"y":14.27},{"k":3,"x":13.31,"y":13.7},{"k":3,"x":16.27,"y":13.89},{"k":3,"x":18.24,"y":14.75},{"k":3,"x":21.2,"y":14.66},{"k":3,"x":24.06,"y":14.18},
{"k":4,"x":0.1,"y":10.55},{"k":4,"x":3.06,"y":10.74},{"k":4,"x":5.42,"y":10.65},{"k":4,"x":7.79,"y":10.27},{"k":4,"x":10.75,"y":10.46},{"k":4,"x":14.2,"y":10.94},{"k":4,"x":18.24,"y":10.27},{"k":4,"x":20.51,"y":9.98},
{"k":5,"x":0.1,"y":7.21},{"k":5,"x":3.06,"y":7.4},{"k":5,"x":3.65,"y":7.21},{"k":5,"x":5.42,"y":7.5},{"k":5,"x":7.4,"y":7.69},
{"k":6,"x":0.1,"y":5.97},{"k":6,"x":2.27,"y":5.59},{"k":6,"x":5.03,"y":6.16},{"k":6,"x":7.79,"y":6.16},{"k":6,"x":12.52,"y":5.69},{"k":6,"x":15.29,"y":5.69},{"k":6,"x":18.05,"y":5.5},{"k":6,"x":20.41,"y":5.59},
{"k":7,"x":0.1,"y":3.68},{"k":7,"x":3.06,"y":3.78},{"k":7,"x":5.03,"y":3.49},{"k":7,"x":7.79,"y":3.87},{"k":7,"x":10.55,"y":3.59},{"k":7,"x":12.52,"y":4.16},{"k":7,"x":16.67,"y":4.16},{"k":7,"x":19.63,"y":3.3},{"k":7,"x":23.18,"y":3.02},
{"k":8,"x":0.1,"y":0.25},{"k":8,"x":3.06,"y":0.25},{"k":8,"x":7.4,"y":0.25},{"k":8,"x":9.37,"y":0.82},{"k":8,"x":10.55,"y":0.34},{"k":8,"x":12.13,"y":0.25}
],
"red_c": [
{"k":1,"x":3.06,"y":20},{"k":1,"x":2.27,"y":18.47},{"k":1,"x":2.76,"y":17.23},{"k":1,"x":2.27,"y":15.8},{"k":1,"x":3.16,"y":14.18},{"k":1,"x":2.37,"y":12.37},{"k":1,"x":3.02,"y":10.65},{"k":1,"x":2.47,"y":8.93},{"k":1,"x":2.96,"y":7.21},{"k":1,"x":2.66,"y":6.45},{"k":1,"x":3.06,"y":5.69},{"k":1,"x":2.56,"y":4.73},{"k":1,"x":3.06,"y":3.78},{"k":1,"x":2.47,"y":2.06},{"k":1,"x":3.06,"y":0.25},{"k":1,"x":3.06,"y":0},
{"k":2,"x":4.93,"y":20},{"k":2,"x":5.23,"y":19.24},{"k":2,"x":4.34,"y":18.47},{"k":2,"x":5.03,"y":16.95},{"k":2,"x":4.24,"y":15.61},{"k":2,"x":5.23,"y":14.27},{"k":2,"x":4.34,"y":12.37},{"k":2,"x":5.23,"y":10.65},{"k":2,"x":4.24,"y":8.93},{"k":2,"x":4.93,"y":7.4},{"k":2,"x":4.64,"y":6.64},{"k":2,"x":5.23,"y":6.16},{"k":2,"x":4.64,"y":4.73},{"k":2,"x":5.23,"y":3.59},{"k":2,"x":4.34,"y":2.06},{"k":2,"x":5.23,"y":0.15},{"k":2,"x":5.23,"y":0},
{"k":3,"x":7.69,"y":20},{"k":3,"x":7.0,"y":18.47},{"k":3,"x":7.4,"y":17.05},{"k":3,"x":6.9,"y":15.61},{"k":3,"x":7.69,"y":14.27},{"k":3,"x":6.61,"y":12.37},{"k":3,"x":7.59,"y":10.27},{"k":3,"x":6.8,"y":8.93},{"k":3,"x":7.4,"y":7.4},{"k":3,"x":7.2,"y":6.64},{"k":3,"x":7.59,"y":6.16},{"k":3,"x":6.9,"y":4.73},{"k":3,"x":7.59,"y":3.78},{"k":3,"x":7.0,"y":2.06},{"k":3,"x":7.69,"y":0.15},{"k":3,"x":7.69,"y":0},
{"k":4,"x":10.65,"y":20},{"k":4,"x":10.26,"y":17.9},{"k":4,"x":9.66,"y":16.18},
{"k":41,"x":9.96,"y":14.94},{"k":41,"x":10.85,"y":14.27},{"k":41,"x":9.76,"y":12.37},{"k":41,"x":10.75,"y":10.65},{"k":41,"x":9.76,"y":8.93},{"k":41,"x":10.55,"y":7.4},{"k":41,"x":10.45,"y":6.64},{"k":41,"x":10.65,"y":5.69},{"k":41,"x":9.96,"y":4.73},{"k":41,"x":10.55,"y":3.78},{"k":41,"x":9.76,"y":2.06},{"k":41,"x":10.36,"y":0.25},{"k":41,"x":10.36,"y":0},
{"k":5,"x":14.1,"y":20},{"k":5,"x":14.3,"y":19.0},{"k":5,"x":13.51,"y":16.95},{"k":5,"x":14.3,"y":13.89},{"k":5,"x":13.51,"y":12.37},{"k":5,"x":14.2,"y":10.84},{"k":5,"x":13.31,"y":8.93},{"k":5,"x":14.1,"y":5.5},{"k":5,"x":13.71,"y":4.73},{"k":5,"x":14.2,"y":3.97},{"k":5,"x":13.51,"y":2.25},{"k":5,"x":14.1,"y":0.15},{"k":5,"x":14.1,"y":0},
{"k":6,"x":18.15,"y":20},{"k":6,"x":18.34,"y":18.85},{"k":6,"x":17.65,"y":16.56},{"k":6,"x":18.44,"y":14.66},{"k":6,"x":17.16,"y":12.37},{"k":6,"x":18.24,"y":10.08},{"k":6,"x":17.65,"y":8.17},{"k":6,"x":18.15,"y":5.5},{"k":6,"x":18.24,"y":3.78},{"k":6,"x":17.95,"y":0.15},{"k":6,"x":17.95,"y":0},
{"k":7,"x":22.98,"y":20},{"k":7,"x":23.08,"y":18.85},{"k":7,"x":22.19,"y":16.56},{"k":7,"x":23.08,"y":14.18},{"k":7,"x":22.49,"y":11.98},{"k":7,"x":22.98,"y":9.69},{"k":7,"x":22.19,"y":8.17},{"k":7,"x":22.98,"y":5.5},{"k":7,"x":23.08,"y":3.21},{"k":7,"x":22.68,"y":0.15},{"k":7,"x":22.68,"y":0},
{"k":8,"x":27.91,"y":20},{"k":8,"x":28.0,"y":18.85},{"k":8,"x":27.71,"y":17.2},{"k":8,"x":27.65,"y":16.37},
{"k":81,"x":27.91,"y":15.13},{"k":81,"x":28.3,"y":13.89},{"k":81,"x":27.91,"y":11.98},{"k":81,"x":27.81,"y":8.93},{"k":81,"x":28.0,"y":6.07},{"k":81,"x":28.1,"y":2.63},{"k":81,"x":27.81,"y":0.15},{"k":81,"x":27.81,"y":0},
{"k":9,"x":33.0,"y":0},{"k":9,"x":33.0,"y":20},
{"k":10,"x":46.87,"y":0},{"k":10,"x":46.87,"y":20}
],
"lab_c": [
{"x":9.76,"y":15.5,"t":"4"},{"x":27.6,"y":15.8,"t":"8"}
]
},
"vconcat": [
{
 "width": 1055, "height": 139, "view": {"stroke": null},
 "layer": [
  {"data": {"values": [{"x": 16.5, "x2": 24.7, "y": 32}]},
   "mark": {"type": "rule", "strokeWidth": 7, "color": "#000"},
   "encoding": {"x": {"field": "x", "type": "quantitative", "scale": {"domain": [0, 60], "nice": false, "zero": false}, "axis": null},
                "x2": {"field": "x2"},
                "y": {"field": "y", "type": "quantitative", "scale": {"domain": [0, 139], "reverse": true, "nice": false, "zero": false}, "axis": null}}},
  {"data": {"values": [{"x": 16.18, "y": 32}]},
   "mark": {"type": "point", "shape": "M -1 0 L 1 -1 L 0.55 0 L 1 1 Z", "size": 1225, "filled": true, "color": "#000", "opacity": 1, "strokeWidth": 0},
   "encoding": {"x": {"field": "x", "type": "quantitative", "scale": {"domain": [0, 60], "nice": false, "zero": false}, "axis": null},
                "y": {"field": "y", "type": "quantitative", "scale": {"domain": [0, 139], "reverse": true, "nice": false, "zero": false}, "axis": null}}},
  {"data": {"values": [{"x": 26.67, "y": 32, "t": "Water flow"}]},
   "mark": {"type": "text", "align": "left", "baseline": "middle", "font": "Lato", "fontSize": 45, "color": "#000"},
   "encoding": {"x": {"field": "x", "type": "quantitative", "scale": {"domain": [0, 60], "nice": false, "zero": false}, "axis": null},
                "y": {"field": "y", "type": "quantitative", "scale": {"domain": [0, 139], "reverse": true, "nice": false, "zero": false}, "axis": null},
                "text": {"field": "t"}}}
 ]
},
{
 "width": 1055, "height": 350,
 "layer": [
  {"data": {"name": "thin_a"}, "mark": {"type": "line", "color": "#0000ff", "strokeWidth": 1.2, "interpolate": "monotone"},
   "encoding": {"x": {"field": "x", "type": "quantitative", "scale": {"domain": [0, 60], "nice": false, "zero": false}, "axis": {"orient": "bottom", "values": [0,10,20,30,40,50,60], "labels": false, "title": null}},
                "y": {"field": "y", "type": "quantitative", "scale": {"domain": [0, 20], "nice": false, "zero": false}, "axis": {"orient": "right", "values": [0,5,10,15,20], "labels": false, "title": null}},
                "detail": {"field": "k", "type": "nominal"}}},
  {"data": {"name": "thick_a"}, "mark": {"type": "line", "color": "#0000ff", "strokeWidth": 7, "interpolate": "catmull-rom"},
   "encoding": {"x": {"field": "x", "type": "quantitative", "axis": null}, "y": {"field": "y", "type": "quantitative", "axis": null}, "detail": {"field": "k", "type": "nominal"}}},
  {"data": {"name": "red_a"}, "mark": {"type": "line", "color": "#ff0000", "strokeWidth": 3, "interpolate": "catmull-rom"},
   "encoding": {"x": {"field": "x", "type": "quantitative", "axis": {"orient": "top", "values": [0,10,20,30,40,50,60], "labelPadding": 15, "title": null}},
                "y": {"field": "y", "type": "quantitative", "axis": {"orient": "left", "values": [0,5,10,15,20], "labelPadding": 18, "title": null}},
                "detail": {"field": "k", "type": "nominal"}, "order": {"field": "y", "type": "quantitative"}}},
  {"data": {"name": "lab_a"}, "mark": {"type": "text", "fontSize": 27, "angle": 270, "color": "#000"},
   "encoding": {"x": {"field": "x", "type": "quantitative", "axis": null}, "y": {"field": "y", "type": "quantitative", "axis": null}, "text": {"field": "t"}}},
  {"data": {"values": [{"x": 48, "y": 16.9, "t": "t = 50d"}]}, "mark": {"type": "text", "fontSize": 50, "align": "left", "baseline": "middle", "color": "#000"},
   "encoding": {"x": {"field": "x", "type": "quantitative", "axis": null}, "y": {"field": "y", "type": "quantitative", "axis": null}, "text": {"field": "t"}}},
  {"data": {"values": [{"x": 57.55, "y": 1.45, "t": "a"}]}, "mark": {"type": "text", "fontSize": 32, "align": "center", "baseline": "middle", "color": "#000"},
   "encoding": {"x": {"field": "x", "type": "quantitative", "axis": null}, "y": {"field": "y", "type": "quantitative", "axis": null}, "text": {"field": "t"}}}
 ],
 "resolve": {"axis": {"x": "independent", "y": "independent"}}
},
{
 "width": 1055, "height": 350,
 "layer": [
  {"data": {"name": "thin_b"}, "mark": {"type": "line", "color": "#0000ff", "strokeWidth": 1.2, "interpolate": "monotone"},
   "encoding": {"x": {"field": "x", "type": "quantitative", "scale": {"domain": [0, 60], "nice": false, "zero": false}, "axis": {"orient": "top", "values": [0,10,20,30,40,50,60], "labels": false, "title": null}},
                "y": {"field": "y", "type": "quantitative", "scale": {"domain": [0, 20], "nice": false, "zero": false}, "axis": {"orient": "right", "values": [0,5,10,15,20], "labels": false, "title": null}},
                "detail": {"field": "k", "type": "nominal"}}},
  {"data": {"name": "thick_b"}, "mark": {"type": "line", "color": "#0000ff", "strokeWidth": 7, "interpolate": "catmull-rom"},
   "encoding": {"x": {"field": "x", "type": "quantitative", "axis": null}, "y": {"field": "y", "type": "quantitative", "axis": null}, "detail": {"field": "k", "type": "nominal"}}},
  {"data": {"name": "red_b"}, "mark": {"type": "line", "color": "#ff0000", "strokeWidth": 3, "interpolate": "catmull-rom"},
   "encoding": {"x": {"field": "x", "type": "quantitative", "axis": {"orient": "bottom", "values": [0,10,20,30,40,50,60], "labels": false, "title": null}},
                "y": {"field": "y", "type": "quantitative", "axis": {"orient": "left", "values": [0,5,10,15,20], "labelPadding": 18, "title": "y (km)", "titlePadding": 14}},
                "detail": {"field": "k", "type": "nominal"}, "order": {"field": "y", "type": "quantitative"}}},
  {"data": {"name": "lab_b"}, "mark": {"type": "text", "fontSize": 27, "angle": 285, "color": "#000"},
   "encoding": {"x": {"field": "x", "type": "quantitative", "axis": null}, "y": {"field": "y", "type": "quantitative", "axis": null}, "text": {"field": "t"}}},
  {"data": {"values": [{"x": 48, "y": 16.9, "t": "t = 150d"}]}, "mark": {"type": "text", "fontSize": 50, "align": "left", "baseline": "middle", "color": "#000"},
   "encoding": {"x": {"field": "x", "type": "quantitative", "axis": null}, "y": {"field": "y", "type": "quantitative", "axis": null}, "text": {"field": "t"}}},
  {"data": {"values": [{"x": 57.55, "y": 1.45, "t": "b"}]}, "mark": {"type": "text", "fontSize": 32, "align": "center", "baseline": "middle", "color": "#000"},
   "encoding": {"x": {"field": "x", "type": "quantitative", "axis": null}, "y": {"field": "y", "type": "quantitative", "axis": null}, "text": {"field": "t"}}}
 ],
 "resolve": {"axis": {"x": "independent", "y": "independent"}}
},
{
 "width": 1055, "height": 350,
 "layer": [
  {"data": {"name": "thin_c"}, "mark": {"type": "line", "color": "#0000ff", "strokeWidth": 1.2, "interpolate": "monotone"},
   "encoding": {"x": {"field": "x", "type": "quantitative", "scale": {"domain": [0, 60], "nice": false, "zero": false}, "axis": {"orient": "top", "values": [0,10,20,30,40,50,60], "labels": false, "title": null}},
                "y": {"field": "y", "type": "quantitative", "scale": {"domain": [0, 20], "nice": false, "zero": false}, "axis": {"orient": "right", "values": [0,5,10,15,20], "labels": false, "title": null}},
                "detail": {"field": "k", "type": "nominal"}}},
  {"data": {"name": "thick_c"}, "mark": {"type": "line", "color": "#0000ff", "strokeWidth": 7, "interpolate": "catmull-rom"},
   "encoding": {"x": {"field": "x", "type": "quantitative", "axis": null}, "y": {"field": "y", "type": "quantitative", "axis": null}, "detail": {"field": "k", "type": "nominal"}}},
  {"data": {"name": "red_c"}, "mark": {"type": "line", "color": "#ff0000", "strokeWidth": 3, "interpolate": "catmull-rom"},
   "encoding": {"x": {"field": "x", "type": "quantitative", "axis": {"orient": "bottom", "values": [0,10,20,30,40,50,60], "labelPadding": 16, "title": "x (km)", "titlePadding": 10}},
                "y": {"field": "y", "type": "quantitative", "axis": {"orient": "left", "values": [0,5,10,15,20], "labelPadding": 18, "title": null}},
                "detail": {"field": "k", "type": "nominal"}, "order": {"field": "y", "type": "quantitative"}}},
  {"data": {"name": "lab_c"}, "mark": {"type": "text", "fontSize": 27, "angle": 285, "color": "#000"},
   "encoding": {"x": {"field": "x", "type": "quantitative", "axis": null}, "y": {"field": "y", "type": "quantitative", "axis": null}, "text": {"field": "t"}}},
  {"data": {"values": [{"x": 48, "y": 16.9, "t": "t = 500d"}]}, "mark": {"type": "text", "fontSize": 50, "align": "left", "baseline": "middle", "color": "#000"},
   "encoding": {"x": {"field": "x", "type": "quantitative", "axis": null}, "y": {"field": "y", "type": "quantitative", "axis": null}, "text": {"field": "t"}}},
  {"data": {"values": [{"x": 57.55, "y": 1.45, "t": "c"}]}, "mark": {"type": "text", "fontSize": 32, "align": "center", "baseline": "middle", "color": "#000"},
   "encoding": {"x": {"field": "x", "type": "quantitative", "axis": null}, "y": {"field": "y", "type": "quantitative", "axis": null}, "text": {"field": "t"}}}
 ],
 "resolve": {"axis": {"x": "independent", "y": "independent"}}
}
]
}
